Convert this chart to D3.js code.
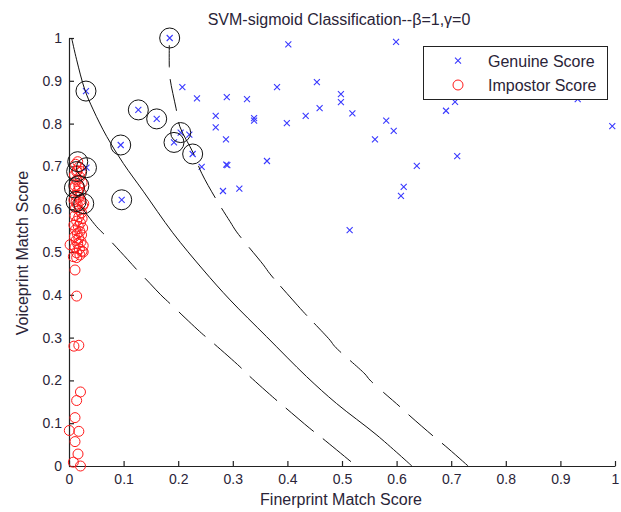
<!DOCTYPE html>
<html>
<head>
<meta charset="utf-8">
<script src="https://cdn.jsdelivr.net/npm/d3@7"></script>
<style>
  html, body { margin: 0; padding: 0; background: #fff; }
  svg { display: block; font-family: Arial, "Liberation Sans", sans-serif; }
</style>
</head>
<body>
<svg id="chart" width="621" height="512"></svg>
<script>
// ---------- data ----------
const title = "SVM-sigmoid Classification--\u03B2=1,\u03B3=0";
const xLabel = "Finerprint Match Score";
const yLabel = "Voiceprint Match Score";
const xTicks = [0, 0.1, 0.2, 0.3, 0.4, 0.5, 0.6, 0.7, 0.8, 0.9, 1];
const yTicks = [0, 0.1, 0.2, 0.3, 0.4, 0.5, 0.6, 0.7, 0.8, 0.9, 1];
const xTickLabels = ["0", "0.1", "0.2", "0.3", "0.4", "0.5", "0.6", "0.7", "0.8", "0.9", "1"];
const yTickLabels = ["0", "0.1", "0.2", "0.3", "0.4", "0.5", "0.6", "0.7", "0.8", "0.9", "1"];
const seriesNames = ["Genuine Score", "Impostor Score"];

// Genuine scores [fingerprint, voiceprint]
const genuine = [
  [0.1844, 1.0], [0.4017, 0.985], [0.599, 0.991], [0.2076, 0.885], [0.2344, 0.859],
  [0.289, 0.862], [0.326, 0.857], [0.381, 0.885], [0.454, 0.897], [0.498, 0.869],
  [0.498, 0.850], [0.459, 0.836], [0.519, 0.824], [0.4335, 0.818], [0.2687, 0.818],
  [0.2687, 0.791], [0.339, 0.813], [0.339, 0.807], [0.399, 0.801], [0.581, 0.807],
  [0.5947, 0.783], [0.5604, 0.763], [0.2875, 0.763], [0.288, 0.704], [0.290, 0.703],
  [0.3626, 0.7126], [0.637, 0.701], [0.282, 0.6425], [0.312, 0.648], [0.613, 0.652],
  [0.608, 0.631], [0.514, 0.551], [0.6905, 0.830], [0.707, 0.851], [0.9317, 0.857],
  [0.995, 0.794], [0.711, 0.724], [0.0311, 0.876], [0.127, 0.832], [0.1606, 0.811],
  [0.0947, 0.750], [0.0965, 0.622], [0.2045, 0.779], [0.2204, 0.774], [0.1923, 0.756],
  [0.2265, 0.729], [0.243, 0.699], [0.032, 0.697]
];

// Impostor scores [fingerprint, voiceprint]
const impostor = [
  [0.016, 0.711], [0.014, 0.688], [0.010, 0.650], [0.018, 0.655], [0.013, 0.618], [0.027, 0.613],
  [0.012, 0.705], [0.018, 0.698], [0.015, 0.690], [0.022, 0.688], [0.010, 0.680], [0.020, 0.675],
  [0.014, 0.668], [0.024, 0.662], [0.011, 0.655], [0.019, 0.650], [0.016, 0.642], [0.022, 0.638],
  [0.012, 0.632], [0.018, 0.628], [0.009, 0.622], [0.021, 0.620], [0.015, 0.612], [0.025, 0.608],
  [0.012, 0.603], [0.019, 0.598], [0.023, 0.592], [0.011, 0.585], [0.018, 0.582], [0.024, 0.578],
  [0.014, 0.572], [0.021, 0.568], [0.009, 0.563], [0.017, 0.560], [0.025, 0.556], [0.012, 0.552],
  [0.020, 0.548], [0.015, 0.543], [0.023, 0.540], [0.010, 0.536], [0.018, 0.532], [0.013, 0.527],
  [0.022, 0.524], [0.016, 0.519], [0.026, 0.515], [0.011, 0.511], [0.019, 0.507], [0.024, 0.502],
  [0.014, 0.498], [0.020, 0.493], [0.008, 0.489], [0.014, 0.487], [0.026, 0.500], [0.002, 0.517],
  [0.011, 0.458], [0.014, 0.397], [0.009, 0.280], [0.018, 0.282], [0.021, 0.173], [0.014, 0.153],
  [0.011, 0.113], [0.0006, 0.083], [0.018, 0.081], [0.011, 0.057], [0.0165, 0.028], [0.008, 0.009],
  [0.021, 0.0]
];

// Support vectors (circled)
const supportVectors = [
  [0.1844, 1.0], [0.0311, 0.876], [0.127, 0.832], [0.1606, 0.811], [0.0947, 0.750],
  [0.0965, 0.622], [0.2045, 0.779], [0.1923, 0.756], [0.2265, 0.729], [0.032, 0.697],
  [0.016, 0.711], [0.014, 0.688], [0.010, 0.650], [0.018, 0.655], [0.013, 0.618], [0.027, 0.613]
];

// Decision boundary (solid) and margins (dashed)
const boundary = [
  [0.005, 0.999], [0.014, 0.949], [0.029, 0.879], [0.0445, 0.832], [0.069, 0.770],
  [0.0995, 0.707], [0.136, 0.642], [0.19, 0.545], [0.246, 0.458],
  [0.295, 0.388], [0.362, 0.302], [0.435, 0.209], [0.490, 0.146], [0.564, 0.072], [0.628, 0.0]
];
const marginLow = [
  [0.022, 0.606], [0.0507, 0.559], [0.0678, 0.537], [0.107, 0.483], [0.124, 0.459],
  [0.148, 0.427], [0.168, 0.400], [0.188, 0.376], [0.243, 0.310], [0.258, 0.294],
  [0.313, 0.232], [0.328, 0.213], [0.377, 0.157], [0.392, 0.141], [0.441, 0.088],
  [0.461, 0.068], [0.526, 0.0]
];
const marginHigh = [
  [0.1837, 0.983], [0.1837, 0.933], [0.185, 0.906], [0.196, 0.836], [0.203, 0.793],
  [0.2277, 0.731], [0.243, 0.684], [0.2705, 0.621], [0.295, 0.571], [0.307, 0.547],
  [0.356, 0.470], [0.368, 0.449], [0.4097, 0.388], [0.429, 0.3605], [0.478, 0.294],
  [0.487, 0.279], [0.542, 0.215], [0.551, 0.201], [0.606, 0.1386], [0.6245, 0.117],
  [0.667, 0.070], [0.689, 0.047], [0.731, 0.0]
];

// ---------- drawing ----------
const svg = d3.select("#chart");
const textColor = "#2a2438";
const axisColor = "#222";
svg.append("rect").attr("width", 621).attr("height", 512).attr("fill", "#fff");

const x = d3.scaleLinear().domain([0, 1]).range([69, 615]);
const y = d3.scaleLinear().domain([0, 1]).range([466, 38]);

// axes
const xAxis = d3.axisBottom(x).tickValues(xTicks)
  .tickFormat((d, i) => xTickLabels[i]).tickSizeInner(-5).tickSizeOuter(0).tickPadding(8);
const yAxis = d3.axisLeft(y).tickValues(yTicks)
  .tickFormat((d, i) => yTickLabels[i]).tickSizeInner(-5).tickSizeOuter(0).tickPadding(7);

const gx = svg.append("g").attr("transform", "translate(0,466)").call(xAxis);
const gy = svg.append("g").attr("transform", "translate(69,0)").call(yAxis);
[gx, gy].forEach(g => {
  g.select(".domain").attr("stroke", axisColor).attr("stroke-width", 1.2);
  g.selectAll(".tick line").attr("stroke", axisColor).attr("stroke-width", 1.2);
  g.selectAll(".tick text").attr("fill", textColor)
    .style("font-family", "Arial, 'Liberation Sans', sans-serif").style("font-size", "14px");
});

// genuine markers (x)
const s = 3;
const gGen = svg.append("g");
gGen.selectAll("path").data(genuine).join("path")
  .attr("d", d => {
    const cx = x(d[0]), cy = y(d[1]);
    return `M${cx - s},${cy - s}L${cx + s},${cy + s}M${cx - s},${cy + s}L${cx + s},${cy - s}`;
  })
  .attr("stroke", "#3a3aff").attr("stroke-width", 1.1).attr("fill", "none");

// impostor markers (o)
svg.append("g").selectAll("circle").data(impostor).join("circle")
  .attr("cx", d => x(d[0])).attr("cy", d => y(d[1])).attr("r", 5)
  .attr("fill", "none").attr("stroke", "#ff1a1a").attr("stroke-width", 1);

// boundary lines
const line = d3.line().x(d => x(d[0])).y(d => y(d[1])).curve(d3.curveCatmullRom);
svg.append("path").attr("d", line(boundary))
  .attr("fill", "none").attr("stroke", "#111").attr("stroke-width", 1);
svg.append("path").attr("d", line(marginLow))
  .attr("fill", "none").attr("stroke", "#111").attr("stroke-width", 1)
  .attr("stroke-dasharray", "36,12").attr("stroke-dashoffset", 0);
svg.append("path").attr("d", line(marginHigh))
  .attr("fill", "none").attr("stroke", "#111").attr("stroke-width", 1)
  .attr("stroke-dasharray", "22,12,32,12,36,12,36,12,36,12,40,10,40,10,40,12,32,14");

// support vector circles
svg.append("g").selectAll("circle").data(supportVectors).join("circle")
  .attr("cx", d => x(d[0])).attr("cy", d => y(d[1])).attr("r", 10)
  .attr("fill", "none").attr("stroke", "#111").attr("stroke-width", 1);

// title and axis labels
svg.append("text").attr("x", 339).attr("y", 25).attr("text-anchor", "middle")
  .attr("fill", textColor).style("font-size", "16px").text(title);
svg.append("text").attr("x", 341).attr("y", 505).attr("text-anchor", "middle")
  .attr("fill", textColor).style("font-size", "16px").text(xLabel);
svg.append("text").attr("transform", "translate(28,253) rotate(-90)").attr("text-anchor", "middle")
  .attr("fill", textColor).style("font-size", "16px").text(yLabel);

// legend
const lg = svg.append("g");
lg.append("rect").attr("x", 423.5).attr("y", 46.5).attr("width", 184).attr("height", 53)
  .attr("fill", "#fff").attr("stroke", "#222").attr("stroke-width", 1);
const lx = 458;
lg.append("path")
  .attr("d", `M${lx - s},${60.7 - s}L${lx + s},${60.7 + s}M${lx - s},${60.7 + s}L${lx + s},${60.7 - s}`)
  .attr("stroke", "#3a3aff").attr("stroke-width", 1.1);
lg.append("circle").attr("cx", lx).attr("cy", 85).attr("r", 5)
  .attr("fill", "none").attr("stroke", "#ff1a1a").attr("stroke-width", 1);
lg.append("text").attr("x", 488).attr("y", 67).attr("fill", textColor)
  .style("font-size", "16px").text(seriesNames[0]);
lg.append("text").attr("x", 488).attr("y", 91).attr("fill", textColor)
  .style("font-size", "16px").text(seriesNames[1]);
</script>
</body>
</html>
